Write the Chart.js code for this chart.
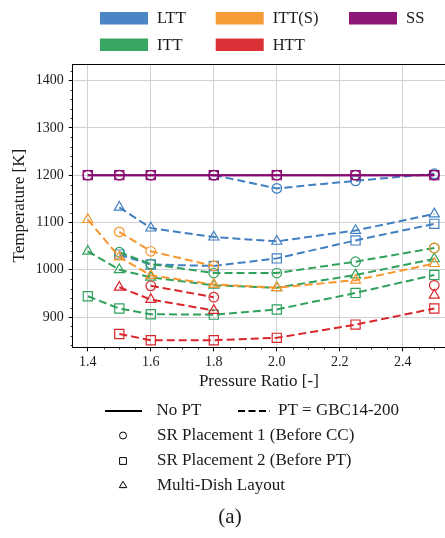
<!DOCTYPE html>
<html>
<head>
<meta charset="utf-8">
<script src="https://cdn.jsdelivr.net/npm/chart.js@4"></script>
<style>
  html, body { margin: 0; padding: 0; background: #fff; }
  #wrap { width: 445px; height: 538px; }
</style>
</head>
<body>
<div id="wrap"><canvas id="myChart" width="445" height="538"></canvas></div>
<script>
var pressureRatio = [1.4, 1.5, 1.6, 1.8, 2.0, 2.25, 2.5];

// LTT
var lttCircle   = [null, null, null, 1200, 1172, 1188, 1203];
var lttSquare   = [null, 1032, 1011, 1008, 1024, 1062, 1097];
var lttTriangle = [null, 1132, 1088, 1069, 1060, 1083, 1118];
// ITT
var ittCircle   = [null, 1037, 1012, 993, 993, 1017, 1046];
var ittSquare   = [944, 918, 906, 905, 916, 951, 989];
var ittTriangle = [1039, 1000, 984, 967, 962, 989, 1023];
// ITT(S)
var ittsCircle   = [null, 1080, 1039, 1008, null, null, 1046];
var ittsTriangle = [1106, 1027, 988, 969, 962, 978, 1013];
// HTT
var httCircle   = [null, null, 966, 942, null, null, 967];
var httSquare   = [null, 864, 851, 851, 856, 884, 918];
var httTriangle = [null, 963, 937, 914, null, null, 946];
// SS
var ssCircle = [1200, 1200, 1200, 1200, 1200, 1200, 1200];
var ssSquare = [1200, 1200, 1200, 1200, 1200, 1200, 1200];

var xTicks = [1.4, 1.6, 1.8, 2.0, 2.2, 2.4];
var yTicks = [900, 1000, 1100, 1200, 1300, 1400];

var groupNames = ['LTT', 'ITT(S)', 'SS', 'ITT', 'HTT'];
var lineNames = ['No PT', 'PT = GBC14-200'];
var markerNames = ['SR Placement 1 (Before CC)', 'SR Placement 2 (Before PT)', 'Multi-Dish Layout'];

var colors = {
    'LTT': '#4080c2',
    'ITT(S)': '#f7962e',
    'SS': '#870b6f',
    'ITT': '#2fa15c',
    'HTT': '#d9262b'
};

var FONT = '"Liberation Serif", "Times New Roman", "DejaVu Serif", serif';
var TEXT = '#1a1a1a';

function pts(vals) {
    return pressureRatio.map(function (x, i) { return { x: x, y: vals[i] }; });
}

var radius = { circle: 4.8, rect: 6.5, triangle: 5.8 };

function series(label, group, vals, shape, dashed) {
    return {
        label: label,
        data: pts(vals),
        borderColor: colors[group],
        backgroundColor: 'rgba(0,0,0,0)',
        borderWidth: 2,
        borderDash: dashed ? [8, 4] : [],
        pointStyle: shape,
        pointRadius: radius[shape],
        pointBorderWidth: 1.2,
        pointBorderColor: colors[group],
        pointBackgroundColor: 'rgba(0,0,0,0)',
        showLine: true,
        spanGaps: false,
        tension: 0
    };
}

var datasets = [
    series('LTT circle', 'LTT', lttCircle, 'circle', true),
    series('LTT square', 'LTT', lttSquare, 'rect', true),
    series('LTT triangle', 'LTT', lttTriangle, 'triangle', true),
    series('ITT circle', 'ITT', ittCircle, 'circle', true),
    series('ITT square', 'ITT', ittSquare, 'rect', true),
    series('ITT triangle', 'ITT', ittTriangle, 'triangle', true),
    series('ITT(S) circle', 'ITT(S)', ittsCircle, 'circle', true),
    series('ITT(S) triangle', 'ITT(S)', ittsTriangle, 'triangle', true),
    series('HTT circle', 'HTT', httCircle, 'circle', true),
    series('HTT square', 'HTT', httSquare, 'rect', true),
    series('HTT triangle', 'HTT', httTriangle, 'triangle', true),
    series('SS circle', 'SS', ssCircle, 'circle', false),
    series('SS square', 'SS', ssSquare, 'rect', false)
];
// later datasets are drawn on top (like matplotlib)
datasets.forEach(function (d, i) { d.order = datasets.length - i; });

// draws minor ticks, top spine and both legends
var extras = {
    id: 'extras',
    afterDraw: function (chart) {
        var ctx = chart.ctx;
        var area = chart.chartArea;
        var xs = chart.scales.x, ys = chart.scales.y;
        ctx.save();

        // top spine
        ctx.strokeStyle = '#000';
        ctx.lineWidth = 1;
        ctx.beginPath();
        ctx.moveTo(area.left, Math.round(area.top) + 0.5);
        ctx.lineTo(area.right, Math.round(area.top) + 0.5);
        ctx.stroke();

        // minor ticks
        ctx.lineWidth = 0.8;
        ctx.beginPath();
        for (var i = 27; i <= 51; i++) {
            if (i % 4 === 0) continue;
            var v = i * 0.05;
            if (v < xs.min || v > xs.max) continue;
            var px = Math.round(xs.getPixelForValue(v)) + 0.5;
            ctx.moveTo(px, area.bottom);
            ctx.lineTo(px, area.bottom + 2.2);
        }
        for (var t = 840; t <= 1420; t += 20) {
            if (t % 100 === 0) continue;
            var py = Math.round(ys.getPixelForValue(t)) + 0.5;
            ctx.moveTo(area.left, py);
            ctx.lineTo(area.left - 2.2, py);
        }
        ctx.stroke();

        // top legend (patches, 3 columns)
        var colX = [100, 215.7, 349];
        var rowY = [12, 38.5];
        ctx.font = '16.5px ' + FONT;
        ctx.textBaseline = 'middle';
        ctx.textAlign = 'left';
        groupNames.forEach(function (name, k) {
            var c = k % 3, r = Math.floor(k / 3);
            ctx.fillStyle = colors[name];
            ctx.globalAlpha = 0.95;
            ctx.fillRect(colX[c], rowY[r], 48, 12.5);
            ctx.globalAlpha = 1;
            ctx.fillStyle = TEXT;
            ctx.fillText(name, colX[c] + 57, rowY[r] + 7);
        });

        // bottom legend: line styles
        ctx.font = '17px ' + FONT;
        ctx.strokeStyle = '#000';
        ctx.lineWidth = 2;
        ctx.beginPath();
        ctx.moveTo(105, 411); ctx.lineTo(142, 411);
        ctx.stroke();
        ctx.setLineDash([7, 3.5]);
        ctx.beginPath();
        ctx.moveTo(238, 411); ctx.lineTo(270, 411);
        ctx.stroke();
        ctx.setLineDash([]);
        ctx.fillStyle = TEXT;
        ctx.fillText(lineNames[0], 156.5, 411);
        ctx.fillText(lineNames[1], 278, 411);

        // bottom legend: marker shapes (hollow)
        var rows = [435.5, 461, 485.5];
        var shapes = ['circle', 'rect', 'triangle'];
        var sizes = [3.5, 4.8, 4.3];
        for (var m = 0; m < 3; m++) {
            ctx.fillStyle = 'rgba(0,0,0,0)';
            ctx.strokeStyle = '#000';
            ctx.lineWidth = 1;
            Chart.helpers.drawPoint(ctx, {
                pointStyle: shapes[m], radius: sizes[m], borderWidth: 1
            }, 123, rows[m]);
            ctx.fillStyle = TEXT;
            ctx.fillText(markerNames[m], 157, rows[m]);
        }

        // panel label
        ctx.font = '21px ' + FONT;
        ctx.textAlign = 'center';
        ctx.fillText('(a)', 230, 517);
        ctx.restore();
    }
};

Chart.defaults.font.family = FONT;
Chart.defaults.color = TEXT;

const ctx = document.getElementById('myChart');

new Chart(ctx, {
    type: 'line',
    data: { datasets: datasets },
    plugins: [extras],
    options: {
        responsive: false,
        animation: false,
        devicePixelRatio: 1,
        layout: {
            autoPadding: false,
            padding: { top: 64, left: 0, right: 0, bottom: 146.7 }
        },
        plugins: {
            legend: { display: false },
            tooltip: { enabled: false }
        },
        scales: {
            x: {
                type: 'linear',
                min: 1.352,
                max: 2.534,
                afterBuildTicks: function (scale) {
                    scale.ticks = xTicks.map(function (v) { return { value: v }; });
                },
                afterFit: function (scale) {
                    scale.height = 44;
                    scale.paddingLeft = 0;
                    scale.paddingRight = 0;
                },
                ticks: {
                    font: { size: 14 },
                    padding: 3,
                    maxRotation: 0,
                    callback: function (v) { return v.toFixed(1); }
                },
                grid: {
                    color: '#d2d2d2',
                    lineWidth: 1,
                    tickColor: '#000',
                    tickLength: 4
                },
                border: { display: true, color: '#000', width: 1 },
                title: {
                    display: true,
                    text: 'Pressure Ratio [-]',
                    font: { size: 17 },
                    padding: { top: 0, bottom: 0 }
                }
            },
            y: {
                type: 'linear',
                min: 836,
                max: 1435,
                afterBuildTicks: function (scale) {
                    scale.ticks = yTicks.map(function (v) { return { value: v }; });
                },
                afterFit: function (scale) {
                    scale.width = 72.7;
                    scale.paddingTop = 0;
                    scale.paddingBottom = 0;
                },
                ticks: {
                    font: { size: 14 },
                    padding: 5,
                    callback: function (v) { return String(v); }
                },
                grid: {
                    color: '#d2d2d2',
                    lineWidth: 1,
                    tickColor: '#000',
                    tickLength: 4
                },
                border: { display: true, color: '#000', width: 1 },
                title: {
                    display: true,
                    text: 'Temperature [K]',
                    font: { size: 17 },
                    padding: { top: 9.8, bottom: 0 }
                }
            }
        }
    }
});
</script>
</body>
</html>
